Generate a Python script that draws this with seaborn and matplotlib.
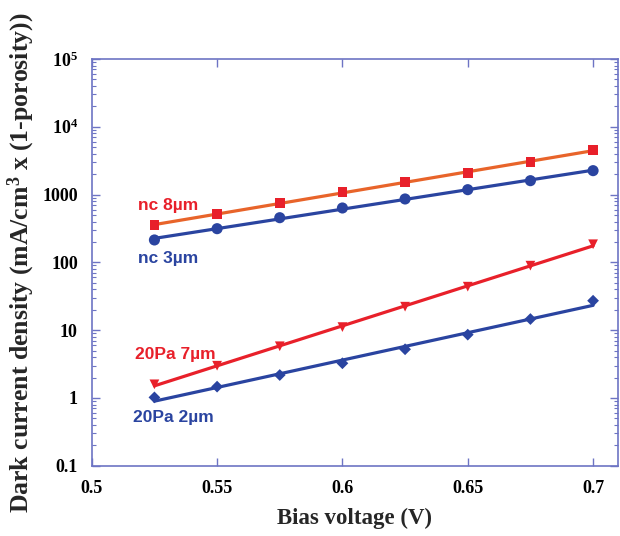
import numpy as np
import pandas as pd
import matplotlib
matplotlib.use("Agg")
import matplotlib.pyplot as plt
import seaborn as sns
from matplotlib.ticker import LogLocator, FixedLocator, FixedFormatter, NullFormatter

# --- data ---
bias_v = [0.525, 0.55, 0.575, 0.6, 0.625, 0.65, 0.675, 0.7]
nc_8um = [352, 523, 752, 1081, 1518, 2104, 2995, 4594]
nc_3um = [214, 314, 456, 634, 861, 1181, 1603, 2253]
pa20_7um = [1.59, 2.99, 5.79, 11.1, 22.2, 43.8, 89.4, 185]
pa20_2um = [1.02, 1.47, 2.18, 3.25, 5.23, 8.59, 14.6, 27.2]

series_names = ["nc 8\u00b5m", "nc 3\u00b5m", "20Pa 7\u00b5m", "20Pa 2\u00b5m"]
y_ticks = [0.1, 1, 10, 100, 1000, 1e4, 1e5]
y_ticklabels = ["0.1", "1", "10", "100", "1000", "$\\mathbf{10^4}$", "$\\mathbf{10^5}$"]
x_ticks = [0.5, 0.55, 0.6, 0.65, 0.7]
x_ticklabels = ["0.5", "0.55", "0.6", "0.65", "0.7"]

RED = "#e8202a"
ORANGE = "#e8642a"
BLUE = "#2a44a0"
SPINE = "#6d74c4"

df = pd.DataFrame({
    "V": bias_v * 4,
    "J": nc_8um + nc_3um + pa20_7um + pa20_2um,
    "series": np.repeat(series_names, len(bias_v)),
})

styles = {
    "nc 8\u00b5m": dict(line=ORANGE, mk=RED, marker="s", ms=7),
    "nc 3\u00b5m": dict(line=BLUE, mk=BLUE, marker="o", ms=8),
    "20Pa 7\u00b5m": dict(line=RED, mk=RED, marker="v", ms=7),
    "20Pa 2\u00b5m": dict(line=BLUE, mk=BLUE, marker="D", ms=6),
}

sns.set_style("white")
plt.rcParams["mathtext.fontset"] = "custom"
plt.rcParams["mathtext.bf"] = "Liberation Serif:bold"
plt.rcParams["mathtext.rm"] = "Liberation Serif"
plt.rcParams["mathtext.it"] = "Liberation Serif:italic"

fig = plt.figure(figsize=(6.2, 5.36), dpi=100)
ax = fig.add_axes([0.148, 0.131, 0.849, 0.759])
ax.set_yscale("log")

# exponential fits (straight lines on the log axis)
for name in series_names:
    sub = df[df["series"] == name]
    coef = np.polyfit(sub["V"], np.log10(sub["J"]), 1)
    fit = pd.DataFrame({"V": sub["V"], "J": 10 ** np.polyval(coef, sub["V"])})
    st = styles[name]
    sns.lineplot(data=fit, x="V", y="J", ax=ax, color=st["line"], lw=2.3)
    sns.scatterplot(data=sub, x="V", y="J", ax=ax, color=st["mk"], marker=st["marker"],
                    s=st["ms"] ** 2, edgecolor="none", zorder=3)

ax.set_xlim(0.5, 0.71)
ax.set_ylim(0.1, 1e5)

# series labels
lab_kw = dict(fontsize=12.5, fontweight="bold", family="Liberation Sans", va="center")
ax.text(0.5184, 679, "nc 8\u00b5m", color=RED, **lab_kw)
ax.text(0.5184, 116, "nc 3\u00b5m", color=BLUE, **lab_kw)
ax.text(0.5172, 4.31, "20Pa 7\u00b5m", color=RED, **lab_kw)
ax.text(0.5164, 0.507, "20Pa 2\u00b5m", color=BLUE, **lab_kw)

# ticks
ax.yaxis.set_major_locator(FixedLocator(y_ticks))
ax.yaxis.set_major_formatter(FixedFormatter(y_ticklabels))
ax.yaxis.set_minor_locator(LogLocator(base=10, subs=np.arange(2, 10), numticks=20))
ax.yaxis.set_minor_formatter(NullFormatter())
ax.xaxis.set_major_locator(FixedLocator(x_ticks))
ax.xaxis.set_major_formatter(FixedFormatter(x_ticklabels))
ax.tick_params(which="both", direction="in", color=SPINE, top=True, right=True,
               bottom=True, left=True, labelcolor="black")
ax.tick_params(which="major", length=6, width=1)
ax.tick_params(which="minor", length=3, width=0.8)
for lbl in ax.get_xticklabels() + ax.get_yticklabels():
    lbl.set_family("Liberation Serif")
    lbl.set_fontweight("bold")
    lbl.set_fontsize(13)
ax.tick_params(axis="x", pad=10)
ax.tick_params(axis="y", pad=10)

for sp in ax.spines.values():
    sp.set_color(SPINE)
    sp.set_linewidth(1.2)

ax.set_xlabel("Bias voltage (V)", family="Liberation Serif", fontweight="bold",
              fontsize=16.5, labelpad=8)
ax.set_ylabel("Dark current density (mA/cm$^\\mathbf{3}$ x (1-porosity))",
              family="Liberation Serif", fontweight="bold", fontsize=18.5, labelpad=4)

fig.savefig("out.png", dpi=100)
